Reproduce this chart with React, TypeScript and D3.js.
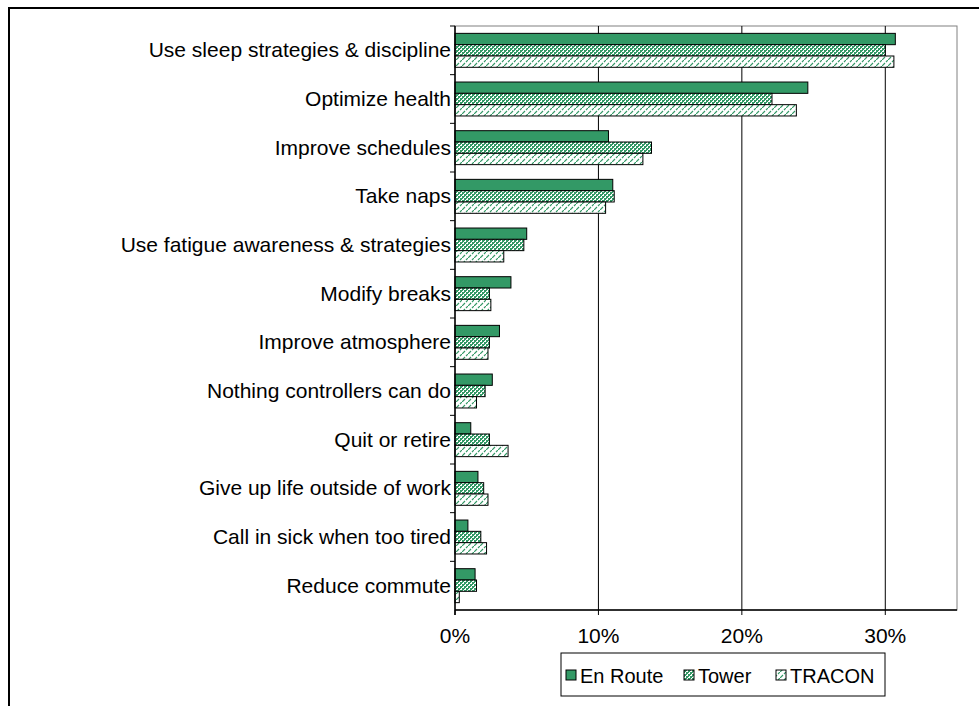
import { scaleBand, scaleLinear } from "d3";

const categories = [
  "Use sleep strategies & discipline",
  "Optimize health",
  "Improve schedules",
  "Take naps",
  "Use fatigue awareness & strategies",
  "Modify breaks",
  "Improve atmosphere",
  "Nothing controllers can do",
  "Quit or retire",
  "Give up life outside of work",
  "Call in sick when too tired",
  "Reduce commute",
];

const enRoute = [30.7, 24.6, 10.7, 11.0, 5.0, 3.9, 3.1, 2.6, 1.1, 1.6, 0.9, 1.4];
const tower = [30.0, 22.1, 13.7, 11.1, 4.8, 2.4, 2.4, 2.1, 2.4, 2.0, 1.8, 1.5];
const tracon = [30.6, 23.8, 13.1, 10.5, 3.4, 2.5, 2.3, 1.5, 3.7, 2.3, 2.2, 0.3];

const seriesNames = ["En Route", "Tower", "TRACON"];
const xTicks = [0, 10, 20, 30];

const GREEN = "#339966";
const fills = [GREEN, "url(#towerPat)", "url(#traconPat)"];

export default function App() {
  const width = 979;
  const height = 706;
  const left = 455;
  const right = 957;
  const top = 26;
  const bottom = 610;

  const x = scaleLinear().domain([0, 35]).range([left, right]);
  const y = scaleBand<string>().domain(categories).range([top, bottom]);
  const inner = scaleBand<number>()
    .domain([0, 1, 2])
    .range([0, y.bandwidth()])
    .paddingOuter(0.65)
    .paddingInner(0);

  const series = [enRoute, tower, tracon];
  const font = "'Liberation Sans', Arial, sans-serif";
  const fs = 21;

  // legend item positions (swatch x)
  const legendX = [566, 684, 776];

  return (
    <div style={{ position: "fixed", left: 0, top: 0 }}>
      <svg width={width} height={height} style={{ display: "block", background: "#fff" }}>
        <defs>
          <pattern id="towerPat" width="4" height="4" patternUnits="userSpaceOnUse">
            <rect width="4" height="4" fill={GREEN} />
            <rect x="0" y="0" width="2" height="2" fill="#fff" />
            <rect x="2" y="2" width="2" height="2" fill="#fff" />
            <rect x="0" y="0" width="1" height="1" fill={GREEN} />
            <rect x="2" y="2" width="1" height="1" fill={GREEN} />
          </pattern>
          <pattern id="traconPat" width="6" height="6" patternUnits="userSpaceOnUse">
            <rect width="6" height="6" fill="#fff" />
            <path d="M0,6 L3,3 M4,2 L6,0" stroke={GREEN} strokeWidth="1.2" />
          </pattern>
        </defs>

        {/* outer frame */}
        <rect x={9} y={8} width={1100} height={1100} fill="none" stroke="#000" strokeWidth={2} />

        {/* plot border */}
        <rect x={left} y={top} width={right - left} height={bottom - top} fill="none" stroke="#808080" strokeWidth={1} />

        {/* gridlines */}
        {xTicks.filter((t) => t > 0).map((t) => (
          <line key={t} x1={x(t)} x2={x(t)} y1={top} y2={bottom} stroke="#000" strokeWidth={1} />
        ))}

        {/* bars */}
        {categories.map((c, i) => (
          <g key={c}>
            {series.map((s, j) => (
              <rect
                key={j}
                x={x(0)}
                y={(y(c) ?? 0) + (inner(j) ?? 0)}
                width={x(s[i]) - x(0)}
                height={inner.bandwidth()}
                fill={fills[j]}
                stroke="#000"
                strokeWidth={1}
              />
            ))}
          </g>
        ))}

        {/* y axis */}
        <line x1={left} x2={left} y1={top} y2={bottom + 5} stroke="#000" strokeWidth={1.5} />
        {categories.map((c, i) => (
          <line key={"t" + i} x1={left - 5} x2={left} y1={y(c)} y2={y(c)} stroke="#000" strokeWidth={1} />
        ))}
        {categories.map((c) => (
          <text
            key={"l" + c}
            x={left - 4}
            y={(y(c) ?? 0) + y.bandwidth() / 2 + 7}
            textAnchor="end"
            fontFamily={font}
            fontSize={fs}
            fill="#000"
          >
            {c}
          </text>
        ))}

        {/* x axis */}
        <line x1={left} x2={right} y1={bottom} y2={bottom} stroke="#000" strokeWidth={1.5} />
        {xTicks.map((t) => (
          <g key={"x" + t}>
            <line x1={x(t)} x2={x(t)} y1={bottom} y2={bottom + 5} stroke="#000" />
            <text x={x(t)} y={643} textAnchor="middle" fontFamily={font} fontSize={fs} fill="#000">
              {t}%
            </text>
          </g>
        ))}

        {/* legend */}
        <rect x={561} y={653} width={324} height={43} fill="#fff" stroke="#000" strokeWidth={1} />
        {seriesNames.map((n, j) => (
          <g key={n}>
            <rect x={legendX[j]} y={670} width={10} height={10} fill={fills[j]} stroke="#000" strokeWidth={1} />
            <text x={legendX[j] + 14} y={683} fontFamily={font} fontSize={20} fill="#000">
              {n}
            </text>
          </g>
        ))}
      </svg>
    </div>
  );
}
